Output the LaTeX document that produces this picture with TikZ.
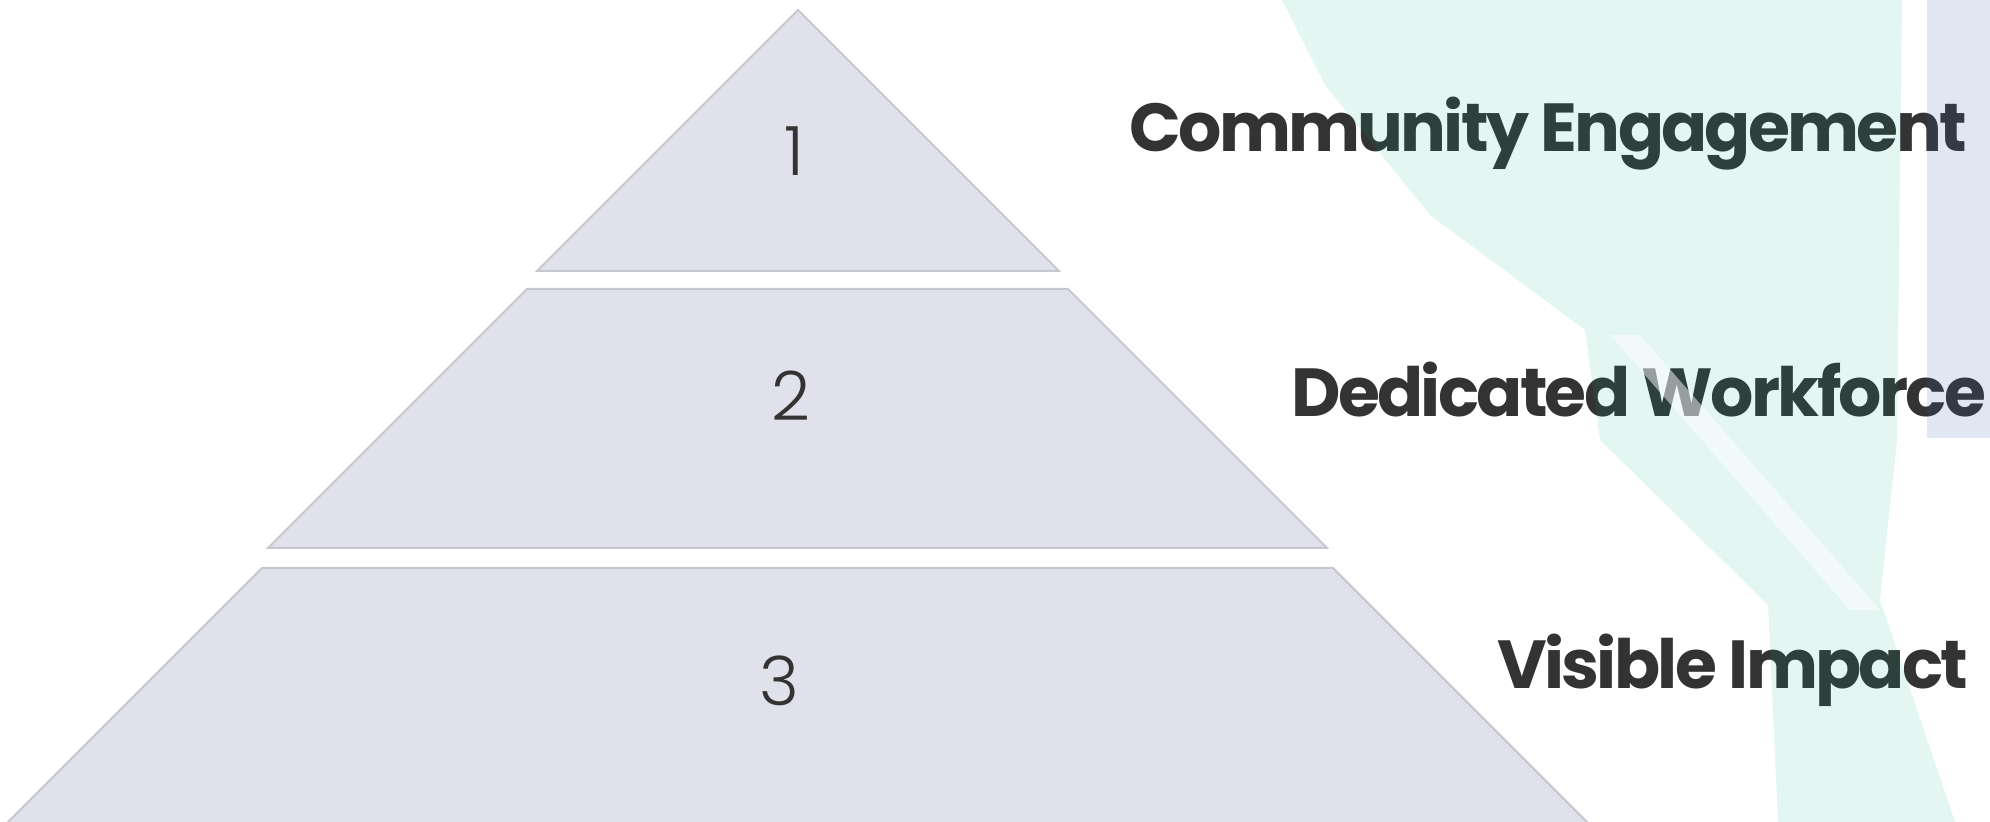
\documentclass[tikz,border=0pt]{standalone}
\usepackage{fontspec}
\newfontfamily\poppins[LetterSpace=-4]{Poppins}
\newfontfamily\poplight{Poppins Light}
\definecolor{tierfill}{HTML}{E0E1EA}
\definecolor{tieredge}{HTML}{C6C7CF}
\definecolor{inkgray}{HTML}{333333}
\definecolor{mintwash}{RGB}{0,170,130}
\definecolor{slatewash}{RGB}{60,100,170}
\tikzset{
  tier/.style={fill=tierfill, draw=tieredge, line width=1pt},
  tiernum/.style={font=\poplight\fontsize{34}{40}\selectfont, text=inkgray, inner sep=0pt},
  tierlabel/.style={font=\poppins\bfseries\fontsize{34}{40}\selectfont, text=inkgray, inner sep=0pt, anchor=base west}
}

\begin{document}
\begin{tikzpicture}[x=0.5pt, y=-0.5pt]
	%%%%% START %%%%%
	\useasboundingbox (0,0) rectangle (1990,822);
	\clip (0,0) rectangle (1990,822);
	
	% pyramid tiers
	\draw[tier] (798,10) -- (1059,271) -- (537,271) -- cycle;
	\draw[tier] (527,289) -- (1068,289) -- (1327,548) -- (268,548) -- cycle;
	\draw[tier] (262,568) -- (1333,568) -- (1600,835) -- (-5,835) -- cycle;
	
	\node[tiernum] (num1) at (794,151) {1};
	\node[tiernum] (num2) at (791,396) {2};
	\node[tiernum] (num3) at (779,681) {3};
	
	% labels
	\node[tierlabel] (community) at (1129,152) {Community Engagement};
	\node[tierlabel] (workforce) at (1291,417) {Dedicated Workforce};
	\node[tierlabel] (impact) at (1497,689) {Visible Impact};
	
	% background washes, laid over the text
	\fill[mintwash, opacity=0.11] (1282,0) -- (1902,0) -- (1897,440) -- (1880,600)
		-- (1955,822) -- (1778,822) -- (1768,605) -- (1600,440) -- (1585,330)
		-- (1430,215) -- (1325,85) -- cycle;
	\fill[white, opacity=0.5] (1610,335) -- (1640,335) -- (1880,610) -- (1850,610) -- cycle;
	\fill[slatewash, opacity=0.155] (1927,0) rectangle (1990,438);
	
	%%%%% END %%%%%
\end{tikzpicture}
\end{document}
